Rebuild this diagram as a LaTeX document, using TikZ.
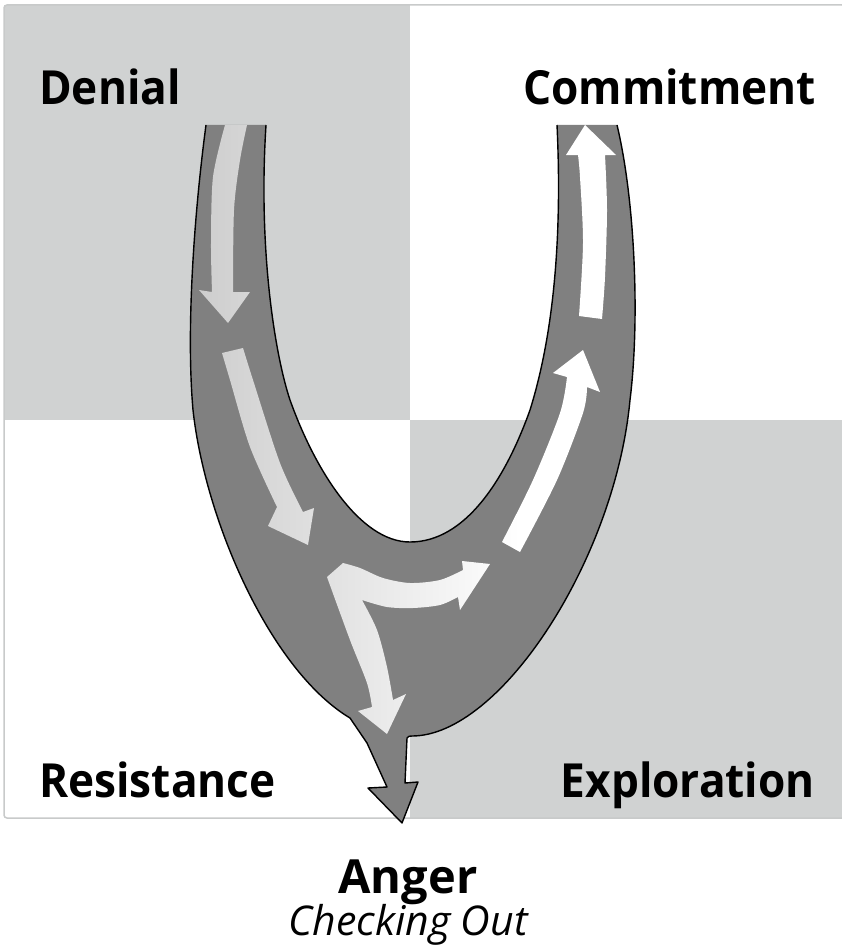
\documentclass[tikz,border=0pt]{standalone}
\usepackage{fontspec}
\setmainfont{Open Sans}
\newfontfamily\cornerfont{Open Sans}[FakeStretch=0.94]
\definecolor{quad}{HTML}{D0D2D2}
\definecolor{framec}{HTML}{C8CACA}
\definecolor{ufill}{HTML}{808080}
\definecolor{arrowL}{HTML}{CDCDCD}
\tikzset{
  lbl/.style={font=\cornerfont\bfseries\fontsize{47}{47}\selectfont, inner sep=0pt, text=black},
  midlbl/.style={font=\bfseries\fontsize{47}{47}\selectfont, inner sep=0pt, text=black},
  sublbl/.style={font=\itshape\fontsize{41}{41}\selectfont, inner sep=0pt, text=black},
  uoutline/.style={draw=black, line width=1.4pt, line join=round},
}
\begin{document}
\begin{tikzpicture}[x=1pt,y=-1pt]
\useasboundingbox (0,0) rectangle (841,947);
% quadrants
\fill[quad] (4,5) rectangle (410,420);
\fill[quad] (410,420) rectangle (845,818);
\draw[framec, line width=1.5pt, rounded corners=3pt] (4,5) rectangle (845,818);

% U body
\fill[ufill] (206,125) .. controls (194,215) and (186,330) .. (193,410)
  .. controls (205,520) and (270,670) .. (350,718)
  -- (367,743) -- (387,787) -- (368,788) -- (402,823) -- (418,782) -- (405,783) -- (407,738)
  .. controls (408,736) and (410,736) .. (412,736)
  .. controls (500,736) and (615,560) .. (630,400)
  .. controls (640,320) and (635,200) .. (617,125)
  -- (557,125)
  .. controls (562,230) and (555,330) .. (530,410)
  .. controls (505,480) and (465,542) .. (410,542)
  .. controls (360,542) and (315,470) .. (290,400)
  .. controls (275,355) and (258,250) .. (266,125)
  -- cycle;
% outlines
\draw[uoutline] (206,125) .. controls (194,215) and (186,330) .. (193,410)
  .. controls (205,520) and (270,670) .. (350,718)
  -- (367,743) -- (387,787) -- (368,788) -- (402,823) -- (418,782) -- (405,783) -- (407,738)
  .. controls (408,736) and (410,736) .. (412,736)
  .. controls (500,736) and (615,560) .. (630,400)
  .. controls (640,320) and (635,200) .. (617,125);
\draw[uoutline] (557,125)
  .. controls (562,230) and (555,330) .. (530,410)
  .. controls (505,480) and (465,542) .. (410,542)
  .. controls (360,542) and (315,470) .. (290,400)
  .. controls (275,355) and (258,250) .. (266,125);

% arrows (light, graded)
\begin{scope}
\clip
  % arrow 1 (Denial, down)
  plot[smooth] coordinates {(225,125) (213,177) (211,243) (212,292)}
   -- (199,290) -- (228,323) -- (250,292)
   -- plot[smooth] coordinates {(233,292) (234,210) (240,160) (247,125)} -- cycle
  % arrow 2 (down to resistance)
  (222,353) -- plot[smooth] coordinates {(222,353) (230,380) (250,447) (277,507)}
   -- (268,526) -- (308,545) -- (314,508)
   -- plot[smooth] coordinates {(303,512) (280,463) (253,380) (243,348)} -- cycle
  % split arrow
  (343,563) -- (327,577)
   -- plot[smooth] coordinates {(327,577) (350,640) (367,683) (372,707)}
   -- (358,711) -- (387,734) -- (406,694)
   -- plot[smooth] coordinates {(393,700) (387,667) (377,630) (362,600)}
   -- plot[smooth] coordinates {(362,600) (387,607) (413,608) (440,605) (458,597)}
   -- (460,610) -- (490,564) -- (462,561)
   -- plot[smooth] coordinates {(463,570) (440,580) (410,583) (383,578) (360,568) (343,563)} -- cycle
  % arrow 3 (up, exploration)
  (502,542) -- plot[smooth] coordinates {(502,542) (533,480) (560,413) (567,377)}
   -- (553,373) -- (583,350) -- (600,392)
   -- plot[smooth] coordinates {(587,387) (583,413) (557,480) (520,552)} -- cycle
  % arrow 4 (up, commitment)
  (579,316) -- plot[smooth] coordinates {(579,316) (583,243) (580,177) (578,155)}
   -- (566,155) -- (585,125) -- (616,155)
   -- plot[smooth] coordinates {(605,155) (607,210) (605,277) (602,319)} -- cycle;
\shade[left color=arrowL, right color=white] (195,100) rectangle (520,850);
\fill[white] (520,100) rectangle (650,850);
\end{scope}

% labels
\node[lbl, anchor=base west] (denial) at (39,105) {Denial};
\node[lbl, anchor=base east] (commit) at (816,105) {Commitment};
\node[lbl, anchor=base west] (resist) at (39,797) {Resistance};
\node[lbl, anchor=base east] (explor) at (815,797) {Exploration};
\node[midlbl, anchor=base] (anger) at (408,893) {Anger};
\node[sublbl, anchor=base] (check) at (408,935) {Checking Out};
\end{tikzpicture}
\end{document}
